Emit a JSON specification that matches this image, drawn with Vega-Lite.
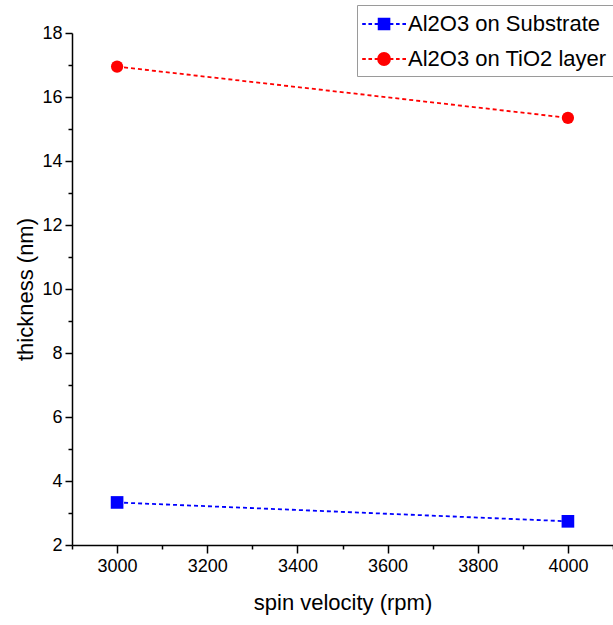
{
  "$schema": "https://vega.github.io/schema/vega-lite/v6.json",
  "autosize": "none",
  "width": 541,
  "height": 512,
  "padding": {"left": 72, "top": 33, "right": 0, "bottom": 80},
  "background": "white",
  "config": {
    "view": {"stroke": null},
    "font": "Liberation Sans",
    "axis": {
      "domainColor": "black", "domainWidth": 1.5, "tickColor": "black", "tickWidth": 1.5,
      "labelColor": "black", "labelFont": "Liberation Sans", "labelFontSize": 18,
      "titleColor": "black", "titleFont": "Liberation Sans", "titleFontSize": 22, "titleFontWeight": "normal",
      "grid": false
    }
  },
  "data": {"values": [
    {"rpm": 3000, "thickness": 3.33, "series": "Al2O3 on Substrate"},
    {"rpm": 4000, "thickness": 2.74, "series": "Al2O3 on Substrate"},
    {"rpm": 3000, "thickness": 16.95, "series": "Al2O3 on TiO2 layer"},
    {"rpm": 4000, "thickness": 15.35, "series": "Al2O3 on TiO2 layer"}
  ]},
  "encoding": {
    "x": {"field": "rpm", "type": "quantitative",
      "scale": {"domain": [2900, 4100], "nice": false, "zero": false},
      "axis": {"title": "spin velocity (rpm)", "format": "d",
        "values": [2900,3000,3100,3200,3300,3400,3500,3600,3700,3800,3900,4000,4100],
        "labelExpr": "(datum.value % 200 == 0 && datum.value >= 3000 && datum.value <= 4000) ? datum.label : ''",
        "tickSize": {"condition": {"test": "datum.value % 200 == 0", "value": 8}, "value": 4},
        "labelPadding": 4, "titlePadding": 17, "labelFlush": false}},
    "y": {"field": "thickness", "type": "quantitative",
      "scale": {"domain": [2, 18], "nice": false, "zero": false},
      "axis": {"title": "thickness (nm)", "format": "d",
        "values": [2,3,4,5,6,7,8,9,10,11,12,13,14,15,16,17,18],
        "labelExpr": "(datum.value % 2 == 0) ? datum.label : ''",
        "tickSize": {"condition": {"test": "datum.value % 2 == 0", "value": 7}, "value": 4},
        "labelPadding": 3, "titlePadding": 4, "labelFlush": false}}
  },
  "layer": [
    {"mark": {"type": "line", "strokeDash": [4, 3], "strokeWidth": 1.8},
     "encoding": {"color": {"field": "series", "type": "nominal",
      "scale": {"domain": ["Al2O3 on Substrate", "Al2O3 on TiO2 layer"], "range": ["#0000ff", "#ff0000"]},
      "legend": null}}},
    {"transform": [{"filter": "datum.series == 'Al2O3 on Substrate'"}],
     "mark": {"type": "point", "shape": "square", "filled": true, "opacity": 1, "size": 160},
     "encoding": {"color": {"field": "series", "type": "nominal", "legend": null}}},
    {"transform": [{"filter": "datum.series == 'Al2O3 on TiO2 layer'"}],
     "mark": {"type": "point", "shape": "circle", "filled": true, "opacity": 1, "size": 150},
     "encoding": {"color": {"field": "series", "type": "nominal", "legend": null}}},
    {"transform": [{"calculate": "datum.series", "as": "legendSeries"}],
     "mark": {"type": "point", "filled": true, "opacity": 0, "strokeWidth": 1.8},
     "encoding": {
       "fill": {"field": "legendSeries", "type": "nominal",
         "scale": {"range": ["#0000ff", "#ff0000"]},
         "legend": {"title": null, "orient": "none", "legendX": 285, "legendY": -28,
           "symbolSize": 576, "symbolOpacity": 1, "symbolStrokeWidth": 1.8,
           "labelFontSize": 22, "labelFont": "Liberation Sans", "labelColor": "black",
           "labelOffset": 19, "rowPadding": 11, "padding": 6,
           "strokeColor": "#9a9a9a", "fillColor": "white", "cornerRadius": 0,
           "labelLimit": 400}},
       "stroke": {"field": "legendSeries", "type": "nominal",
         "scale": {"range": ["#0000ff", "#ff0000"]},
         "legend": {"title": null, "orient": "none", "legendX": 285, "legendY": -28,
           "symbolSize": 576, "symbolOpacity": 1, "symbolStrokeWidth": 1.8,
           "labelFontSize": 22, "labelFont": "Liberation Sans", "labelColor": "black",
           "labelOffset": 19, "rowPadding": 11, "padding": 6,
           "strokeColor": "#9a9a9a", "fillColor": "white", "cornerRadius": 0,
           "labelLimit": 400}},
       "shape": {"field": "legendSeries", "type": "nominal",
         "scale": {
           "range": [
             "M-1.15,0H-0.85M-0.63,0H-0.33M-0.11,0H0.22M0.22,-0.45H1.12V0.45H0.22ZM1.12,0H1.45M1.67,0H1.97M2.2,0H2.5",
             "M-1.15,0H-0.85M-0.63,0H-0.33M-0.11,0H0.17M0.17,0A0.5,0.5 0 1,0 1.17,0A0.5,0.5 0 1,0 0.17,0ZM1.17,0H1.45M1.67,0H1.97M2.2,0H2.5"
           ]},
         "legend": {"title": null, "orient": "none", "legendX": 285, "legendY": -28,
           "symbolSize": 576, "symbolOpacity": 1, "symbolStrokeWidth": 1.8,
           "labelFontSize": 22, "labelFont": "Liberation Sans", "labelColor": "black",
           "labelOffset": 19, "rowPadding": 11, "padding": 6,
           "strokeColor": "#9a9a9a", "fillColor": "white", "cornerRadius": 0,
           "labelLimit": 400}}
     }}
  ]
}
